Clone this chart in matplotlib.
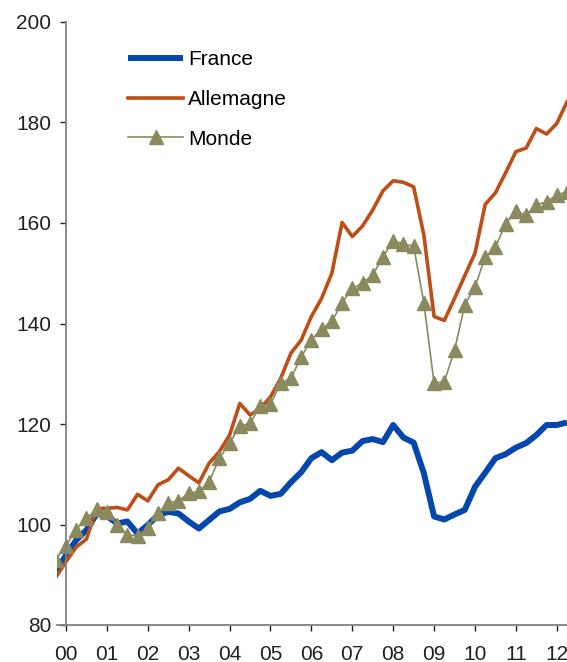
import matplotlib
matplotlib.use("Agg")
import matplotlib.pyplot as plt
import numpy as np

plt.rcParams['font.family'] = ['Liberation Sans', 'DejaVu Sans']

# Quarterly data, 1999Q4 .. 2012Q2
quarters = [f"{y}Q{q}" for y in range(1999, 2013) for q in range(1, 5)][3:3 + 51]

france = [90.6, 93.9, 96.9, 98.9, 102.1, 101.7, 100.2, 100.6, 98.2, 99.9,
          101.9, 102.5, 102.2, 100.6, 99.2, 100.9, 102.6, 103.1, 104.4, 105.1,
          106.7, 105.7, 106.1, 108.4, 110.4, 113.2, 114.4, 112.8, 114.3, 114.7,
          116.6, 117.0, 116.4, 119.8, 117.3, 116.3, 110.2, 101.6, 101.0, 102.0,
          102.9, 107.5, 110.3, 113.2, 114.0, 115.3, 116.2, 117.8, 119.8, 119.8,
          120.3]

allemagne = [89.5, 92.6, 95.5, 97.1, 103.2, 103.2, 103.4, 102.9, 106.0, 104.7,
             107.9, 108.9, 111.2, 109.7, 108.3, 112.2, 114.5, 117.8, 124.1, 121.8,
             123.1, 125.4, 129.1, 134.1, 136.7, 141.4, 145.0, 150.0, 160.1, 157.3,
             159.4, 162.6, 166.4, 168.4, 168.1, 167.2, 157.6, 141.4, 140.6, 145.0,
             149.5, 154.0, 163.7, 166.0, 170.0, 174.2, 174.9, 178.8, 177.7, 179.8,
             184.1]

monde = [93.0, 95.8, 99.0, 101.2, 103.1, 102.5, 99.9, 98.0, 97.7, 99.4,
         102.3, 104.3, 104.7, 106.2, 106.6, 108.5, 113.2, 116.2, 119.6, 120.1,
         123.6, 124.0, 128.1, 129.1, 133.3, 136.8, 138.9, 140.4, 144.1, 147.0,
         148.0, 149.7, 153.2, 156.5, 155.8, 155.4, 144.1, 128.1, 128.4, 134.7,
         143.7, 147.3, 153.2, 155.2, 159.9, 162.3, 161.6, 163.6, 164.2, 165.6,
         166.2]

year_labels = ["00", "01", "02", "03", "04", "05", "06", "07", "08", "09", "10", "11", "12"]
y_ticks = [80, 100, 120, 140, 160, 180, 200]

# time in years since 2000Q1
t = np.arange(len(quarters)) * 0.25 - 0.25

fig = plt.figure(figsize=(5.67, 6.62), dpi=100)
W, H = 567, 662
ax = fig.add_axes([57 / W, (H - 625) / H, (567 - 57) / W, (625 - 22) / H])

ax.plot(t, france, color='#0448AD', lw=4.3, label='France', solid_capstyle='butt')
ax.plot(t, allemagne, color='#BF4E16', lw=2.6, label='Allemagne')
ax.plot(t, monde, color='#8A8A5E', lw=1.2, marker='^', markersize=10.5,
        markerfacecolor='#8A8A5E', markeredgecolor='#8A8A5E', label='Monde')

ax.set_xlim(-0.22, 12.25)
ax.set_ylim(80, 200)
ax.set_xticks(np.arange(len(year_labels)))
ax.set_xticklabels(year_labels)
ax.set_yticks(y_ticks)

for s in ['top', 'right']:
    ax.spines[s].set_visible(False)
ax.spines['left'].set_position(('data', 0))
ax.spines['left'].set_color('#808080')
ax.spines['bottom'].set_color('#808080')
ax.spines['left'].set_linewidth(1.3)
ax.spines['bottom'].set_linewidth(1.3)

ax.tick_params(axis='both', labelsize=15, colors='#222222', width=1, length=4.5)
ax.tick_params(axis='x', pad=10)
ax.tick_params(axis='y', pad=6)

leg = ax.legend(loc='upper left', bbox_to_anchor=(128 / W, (H - 50) / H),
                bbox_transform=fig.transFigure, frameon=False, fontsize=15,
                handlelength=2.65, handletextpad=0.25, labelspacing=1.0,
                borderpad=0, borderaxespad=0)

fig.savefig('out.png', dpi=100)
